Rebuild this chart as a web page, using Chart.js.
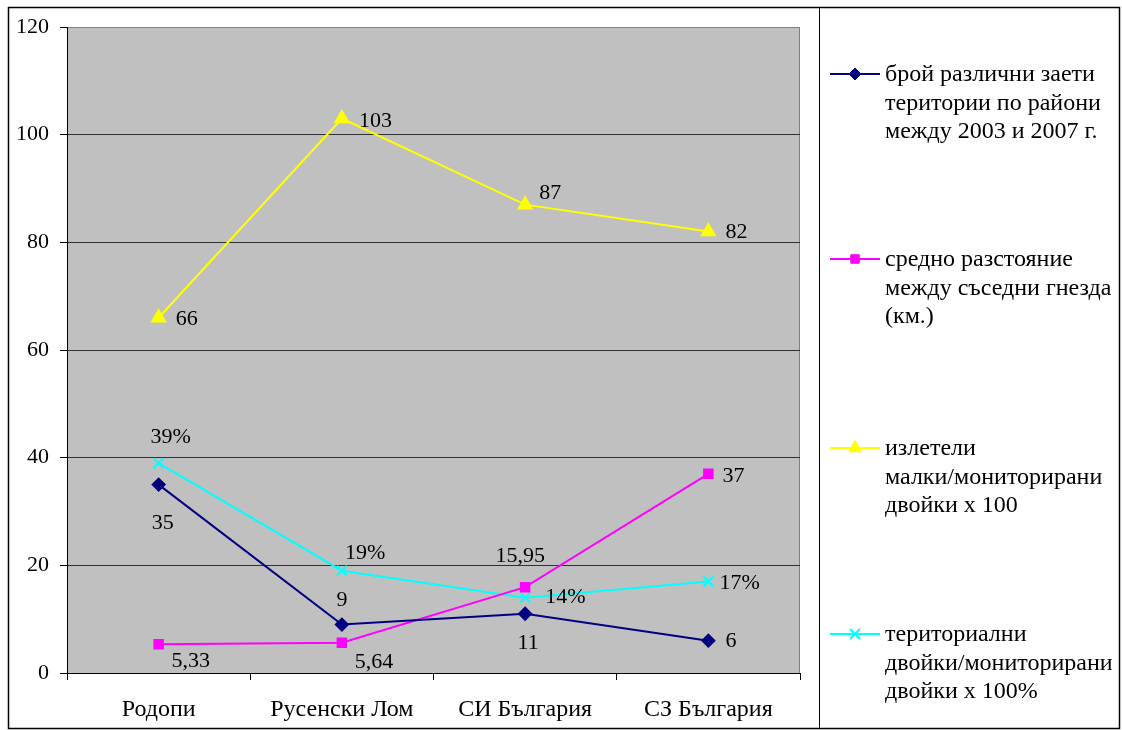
<!DOCTYPE html>
<html><head><meta charset="utf-8">
<script src="https://cdn.jsdelivr.net/npm/chart.js@4"></script>
<style>
html,body{margin:0;padding:0;background:#fff}
#wrap{width:1122px;height:730px;position:relative}
</style>
</head><body>
<div id="wrap"><canvas id="c" width="1122" height="730"></canvas></div>
<script>
// Regions and the four indicators per region
const regions = ['Родопи', 'Русенски Лом', 'СИ България', 'СЗ България'];
const territories = [35, 9, 11, 6];
const nestDistance = [5.33, 5.64, 15.95, 37];
const fledglings = [66, 103, 87, 82];
const territorialPairs = [39, 19, 14, 17];
const yTicks = [0, 20, 40, 60, 80, 100, 120];

const seriesNames = [
  ['брой различни заети', 'територии по райони', 'между 2003 и 2007 г.'],
  ['средно разстояние', 'между съседни гнезда', '(км.)'],
  ['излетели', 'малки/мониторирани', 'двойки x 100'],
  ['териториални', 'двойки/мониторирани', 'двойки x 100%']
];
const valueSuffix = ['', '', '', '%'];

// Label placement next to each point: [align, dx, dy]
const labelPlacement = [
  [['center', 4, 39], ['center', 0, -24], ['center', 3, 29], ['left', 17, 1]],
  [['center', 32, 17], ['center', 32, 20], ['center', -5, -31], ['left', 14, 2]],
  [['left', 17, 2], ['left', 17, 3], ['left', 14, -11], ['left', 17, 1]],
  [['center', 12, -26], ['left', 3, -17], ['left', 20, 0], ['left', 11, 2]]
];

const SERIF = "'Liberation Serif', 'Times New Roman', serif";
const NUM_PX = 22;
const TEXT_PX = 24;

const frame = {
  id: 'frame',
  beforeDraw(chart) {
    const { ctx, chartArea: a } = chart;
    ctx.save();
    ctx.fillStyle = '#c0c0c0';
    ctx.fillRect(a.left, a.top, a.right - a.left, a.bottom - a.top);
    ctx.strokeStyle = '#808080';
    ctx.lineWidth = 1;
    ctx.strokeRect(a.left + 0.5, a.top + 0.5, a.right - a.left - 1, a.bottom - a.top);
    ctx.restore();
  },
  afterDraw(chart) {
    const { ctx } = chart;
    ctx.save();
    ctx.strokeStyle = '#000';
    ctx.lineWidth = 1.5;
    ctx.strokeRect(8.5, 7.5, 1111, 721);
    ctx.lineWidth = 1;
    ctx.beginPath();
    ctx.moveTo(819.5, 7.5);
    ctx.lineTo(819.5, 728.5);
    ctx.stroke();
    ctx.restore();
  }
};

const valueLabels = {
  id: 'valueLabels',
  afterDatasetsDraw(chart) {
    const { ctx } = chart;
    ctx.save();
    ctx.font = NUM_PX + 'px ' + SERIF;
    ctx.fillStyle = '#000';
    ctx.textBaseline = 'middle';
    chart.data.datasets.forEach((ds, i) => {
      const meta = chart.getDatasetMeta(i);
      meta.data.forEach((pt, j) => {
        const [align, dx, dy] = labelPlacement[i][j];
        const text = String(ds.data[j]).replace('.', ',') + valueSuffix[i];
        ctx.textAlign = align;
        ctx.fillText(text, pt.x + dx, pt.y + dy);
      });
    });
    ctx.restore();
  }
};

const sideLegend = {
  id: 'sideLegend',
  afterDraw(chart) {
    const { ctx } = chart;
    const tops = [74, 259, 448, 634];
    const lineH = 28.5;
    ctx.save();
    chart.data.datasets.forEach((ds, i) => {
      const y = tops[i];
      ctx.strokeStyle = ds.borderColor;
      ctx.lineWidth = 2;
      ctx.beginPath();
      ctx.moveTo(830, y);
      ctx.lineTo(880, y);
      ctx.stroke();
      ctx.fillStyle = ds.pointBackgroundColor;
      ctx.strokeStyle = ds.pointBorderColor;
      ctx.lineWidth = ds.pointBorderWidth || 1;
      Chart.helpers.drawPoint(ctx, {
        pointStyle: ds.pointStyle,
        radius: ds.pointRadius,
        borderWidth: ds.pointBorderWidth || 1
      }, 855, y);
      ctx.fillStyle = '#000';
      ctx.font = TEXT_PX + 'px ' + SERIF;
      ctx.textAlign = 'left';
      ctx.textBaseline = 'middle';
      seriesNames[i].forEach((line, k) => ctx.fillText(line, 885, y + 1 + k * lineH));
    });
    ctx.restore();
  }
};

function series(label, data, color, style, radius, extra) {
  return Object.assign({
    label, data,
    borderColor: color,
    backgroundColor: color,
    pointBackgroundColor: color,
    pointBorderColor: color,
    pointStyle: style,
    pointRadius: radius,
    pointHoverRadius: radius,
    borderWidth: 2,
    tension: 0,
    fill: false
  }, extra || {});
}

new Chart(document.getElementById('c'), {
  type: 'line',
  data: {
    labels: regions,
    datasets: [
      series(seriesNames[0].join(' '), territories, '#000080', 'rectRot', 6),
      series(seriesNames[1].join(' '), nestDistance, '#ff00ff', 'rect', 6),
      series(seriesNames[2].join(' '), fledglings, '#ffff00', 'triangle', 7.5),
      series(seriesNames[3].join(' '), territorialPairs, '#00ffff', 'crossRot', 7, { pointBorderWidth: 2 })
    ]
  },
  options: {
    responsive: false,
    animation: false,
    devicePixelRatio: 1,
    layout: { padding: { left: 0, top: 27, right: 322, bottom: 0 } },
    plugins: { legend: { display: false }, tooltip: { enabled: false } },
    scales: {
      x: {
        type: 'category',
        offset: true,
        grid: { offset: true, drawOnChartArea: false, drawTicks: true, tickLength: 7, tickColor: '#000' },
        border: { color: '#000', width: 1 },
        ticks: { color: '#000', font: { family: SERIF, size: TEXT_PX }, padding: 15, maxRotation: 0 },
        afterFit(s) { s.height = 57; }
      },
      y: {
        min: 0, max: 120,
        afterBuildTicks(s) { s.ticks = yTicks.map(v => ({ value: v })); },
        grid: {
          color: ctx => (ctx.tick && ctx.tick.value === 120 ? '#808080' : '#303030'),
          lineWidth: 1, drawTicks: true, tickLength: 7, tickColor: '#000'
        },
        border: { color: '#000', width: 1 },
        ticks: { color: '#000', font: { family: SERIF, size: NUM_PX }, padding: 11 },
        afterFit(s) { s.width = 67; }
      }
    }
  },
  plugins: [frame, valueLabels, sideLegend]
});
</script>
</body></html>
